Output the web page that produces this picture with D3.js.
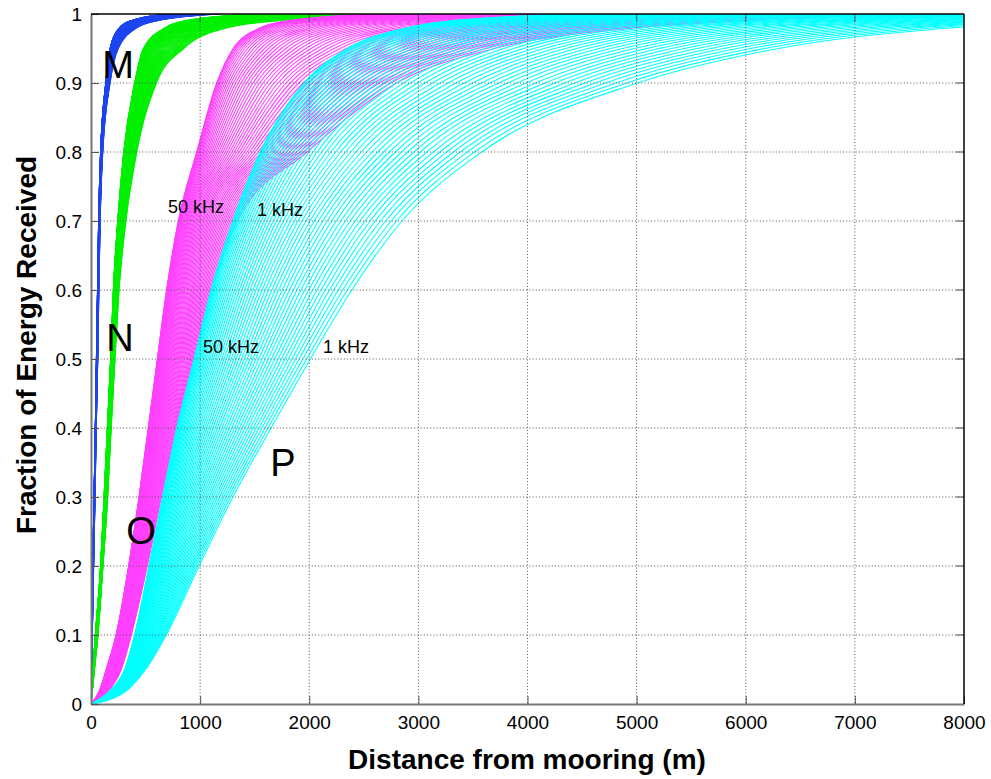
<!DOCTYPE html>
<html>
<head>
<meta charset="utf-8">
<script src="https://cdn.jsdelivr.net/npm/d3@7"></script>
<style>
  body { margin: 0; background: #fff; }
  text { font-family: "Liberation Sans", Arial, sans-serif; }
</style>
</head>
<body>
<div id="chart"></div>
<script>
const levels = [0, 0.02, 0.05, 0.1, 0.2, 0.3, 0.4, 0.5, 0.6, 0.7, 0.8, 0.9, 0.95, 0.98, 0.99, 1];

// distance (m) of each band edge at those levels: 50 kHz edge and 1 kHz edge
const M_50k = [0, 1, 3, 7, 16, 28, 40, 50, 60, 70, 88, 135, 175, 260, 360, 700];
const M_1k = [0, 2.5, 6, 12, 24, 37, 48, 62, 72, 84, 108, 175, 250, 420, 600, 1200];
const N_50k = [0, 7, 18, 40, 88, 120, 150, 180, 205, 245, 300, 400, 480, 680, 860, 1500];
const N_1k = [0, 13, 32, 64, 110, 153, 185, 220, 257, 320, 420, 600, 850, 1250, 1700, 3000];
const O_50k = [0, 80, 140, 230, 345, 440, 525, 608, 693, 800, 969, 1152, 1303, 1550, 1800, 2600];
const O_1k = [0, 165, 278, 370, 516, 645, 785, 935, 1106, 1340, 1980, 2800, 3700, 5000, 6000, 8500];
const P_50k = [0, 180, 309, 400, 532, 656, 785, 945, 1100, 1300, 1550, 1950, 2350, 2900, 3300, 4500];
const P_1k = [0, 330, 500, 690, 990, 1300, 1650, 2010, 2390, 2850, 3580, 5009, 6300, 7900, 9200, 12000];

// frequencies in each family (kHz)
const freqs = [1, 2, 3, 4, 5, 6, 7, 8, 9, 10, 11, 12, 13, 14, 15, 16, 17, 18, 19, 20,
    21, 22, 23, 24, 25, 26, 27, 28, 29, 30, 31, 32, 33, 34, 35, 36, 37, 38, 39, 40,
    41, 42, 43, 44, 45, 46, 47, 48, 49, 50];

const xTicks = [0, 1000, 2000, 3000, 4000, 5000, 6000, 7000, 8000];
const yTicks = [0, 0.1, 0.2, 0.3, 0.4, 0.5, 0.6, 0.7, 0.8, 0.9, 1];

const families = [
    { name: "M", hi: M_50k, lo: M_1k, color: "#1e46f0" },
    { name: "N", hi: N_50k, lo: N_1k, color: "#00f000" },
    { name: "O", hi: O_50k, lo: O_1k, color: "#ff40ff" },
    { name: "P", hi: P_50k, lo: P_1k, color: "#00ffff" }
];

const margin = { top: 14, right: 27, bottom: 75, left: 91 },
    width = 991 - margin.left - margin.right,
    height = 779 - margin.top - margin.bottom;

const svg = d3.select("#chart")
    .append("svg")
    .attr("width", 991)
    .attr("height", 779);

const g = svg.append("g")
    .attr("transform", "translate(" + margin.left + "," + margin.top + ")");

const x = d3.scaleLinear().domain([0, 8000]).range([0, width]);
const y = d3.scaleLinear().domain([0, 1]).range([height, 0]);

// place of a frequency between the 50 kHz edge (0) and the 1 kHz edge (1)
const offset = d3.scalePow().exponent(1.6).domain([0, 49]).range([0, 1]);

g.append("clipPath").attr("id", "clip")
    .append("rect").attr("width", width).attr("height", height);

const line = d3.line()
    .x(d => x(d[0]))
    .y(d => y(d[1]))
    .curve(d3.curveMonotoneX);

const curves = g.append("g").attr("clip-path", "url(#clip)");

families.forEach(function (fam) {
    const grp = curves.append("g");
    freqs.slice().reverse().forEach(function (f) {
        const w = offset(50 - f);
        const pts = levels.map((lv, i) => [fam.hi[i] + w * (fam.lo[i] - fam.hi[i]), lv]);
        grp.append("path")
            .attr("d", line(pts))
            .attr("fill", "none")
            .attr("stroke", fam.color)
            .attr("stroke-width", 1.1);
    });
});

// grid on top of the data
const grid = g.append("g");
xTicks.slice(1, -1).forEach(function (t) {
    grid.append("line")
        .attr("x1", x(t)).attr("x2", x(t))
        .attr("y1", 0).attr("y2", height)
        .attr("stroke", "#555").attr("stroke-dasharray", "1,2.2");
});
yTicks.slice(1, -1).forEach(function (t) {
    grid.append("line")
        .attr("x1", 0).attr("x2", width)
        .attr("y1", y(t)).attr("y2", y(t))
        .attr("stroke", "#555").attr("stroke-dasharray", "1,2.2");
});

// axes
const xAxis = g.append("g")
    .attr("transform", "translate(0," + height + ")")
    .call(d3.axisBottom(x).tickValues(xTicks).tickFormat(d3.format("d")).tickSizeInner(-8).tickSizeOuter(0).tickPadding(12));
const yAxis = g.append("g")
    .call(d3.axisLeft(y).tickValues(yTicks).tickFormat(d => d === 0 || d === 1 ? d : d3.format(".1f")(d)).tickSizeInner(-8).tickSizeOuter(0).tickPadding(9));

[xAxis, yAxis].forEach(function (ax) {
    ax.select(".domain").attr("stroke", "#777").attr("stroke-width", 2);
    ax.selectAll(".tick line").attr("stroke", "#555");
    ax.selectAll(".tick text")
        .attr("fill", "#000")
        .style("font-size", "19px")
        .style("font-family", "'Liberation Sans', Arial, sans-serif");
});

// right and top ticks, box
yTicks.slice(1, -1).forEach(function (t) {
    g.append("line").attr("x1", width).attr("x2", width - 8)
        .attr("y1", y(t)).attr("y2", y(t)).attr("stroke", "#555");
});
xTicks.slice(1, -1).forEach(function (t) {
    g.append("line").attr("x1", x(t)).attr("x2", x(t))
        .attr("y1", 0).attr("y2", 8).attr("stroke", "#555");
});
g.append("line").attr("x1", 0).attr("x2", width).attr("y1", 0).attr("y2", 0)
    .attr("stroke", "#000").attr("stroke-width", 1.5);
g.append("line").attr("x1", width).attr("x2", width).attr("y1", 0).attr("y2", height)
    .attr("stroke", "#000").attr("stroke-width", 1.5);

// axis titles
svg.append("text")
    .attr("x", 527).attr("y", 769)
    .attr("text-anchor", "middle")
    .style("font-size", "28px").style("font-weight", "bold")
    .text("Distance from mooring (m)");
svg.append("text")
    .attr("transform", "translate(36,345) rotate(-90)")
    .attr("text-anchor", "middle")
    .style("font-size", "28px").style("font-weight", "bold")
    .text("Fraction of Energy Received");

// family letters and frequency notes
const bigLabels = [
    { t: "M", px: 118, py: 78 },
    { t: "N", px: 120, py: 351 },
    { t: "O", px: 141, py: 544 },
    { t: "P", px: 283, py: 476 }
];
bigLabels.forEach(function (d) {
    svg.append("text").attr("x", d.px).attr("y", d.py)
        .attr("text-anchor", "middle")
        .style("font-size", "38px")
        .text(d.t);
});
const notes = [
    { t: "50 kHz", px: 168, py: 213 },
    { t: "1 kHz", px: 257, py: 216 },
    { t: "50 kHz", px: 203, py: 353 },
    { t: "1 kHz", px: 323, py: 353 }
];
notes.forEach(function (d) {
    svg.append("text").attr("x", d.px).attr("y", d.py)
        .style("font-size", "18px")
        .text(d.t);
});
</script>
</body>
</html>
